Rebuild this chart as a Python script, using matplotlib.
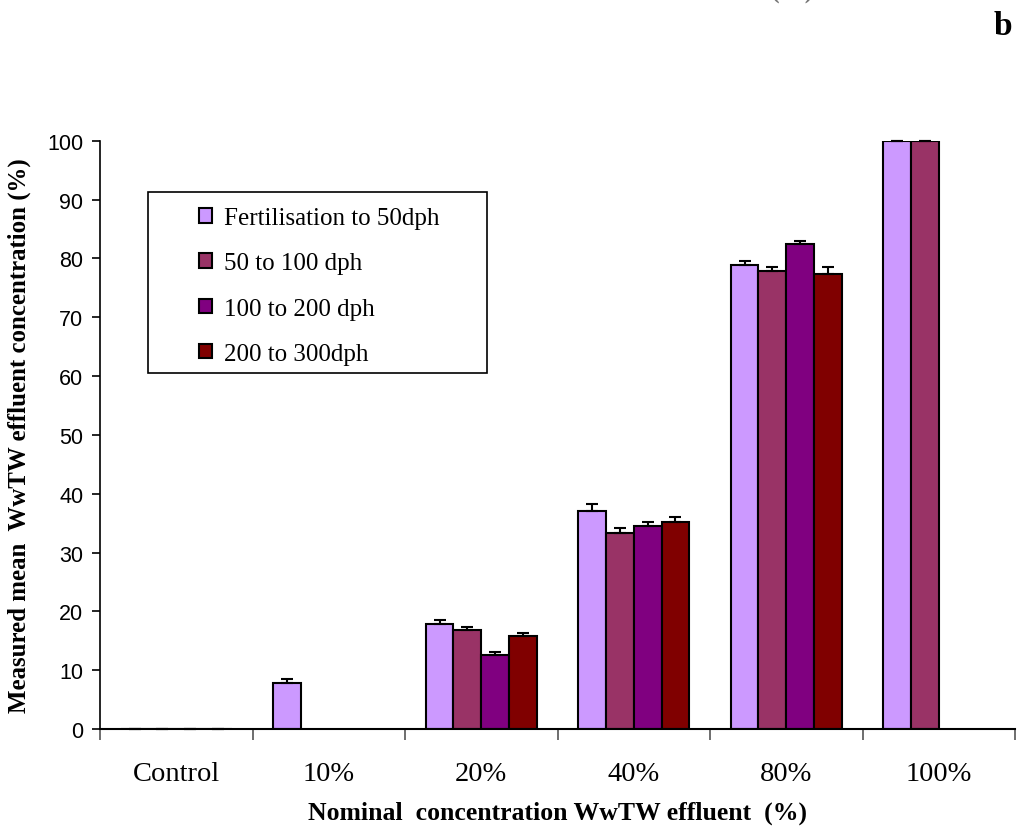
import numpy as np
import matplotlib
matplotlib.use('Agg')
import matplotlib.pyplot as plt
from matplotlib.patches import Rectangle

# measured WwTW effluent concentration per exposure window
categories = ['Control', '10%', '20%', '40%', '80%', '100%']
series = ['Fertilisation to 50dph', '50 to 100 dph', '100 to 200 dph', '200 to 300dph']
colors = ['#CC99FF', '#993366', '#800080', '#800000']

fert_50 = [0, 7.9, 17.8, 37.1, 78.8, 100]
d50_100 = [0, np.nan, 16.8, 33.4, 77.9, 100]
d100_200 = [0, np.nan, 12.6, 34.5, 82.5, np.nan]
d200_300 = [0, np.nan, 15.8, 35.2, 77.3, np.nan]

fert_50_err = [0, 0.65, 0.7, 1.2, 0.8, 0]
d50_100_err = [0, np.nan, 0.55, 0.85, 0.55, 0]
d100_200_err = [0, np.nan, 0.5, 0.7, 0.4, np.nan]
d200_300_err = [0, np.nan, 0.45, 0.85, 1.2, np.nan]

values = [fert_50, d50_100, d100_200, d200_300]
errors = [fert_50_err, d50_100_err, d100_200_err, d200_300_err]

serif = 'Liberation Serif'
sans = 'Liberation Sans'

fig = plt.figure(figsize=(10.17, 8.28), dpi=100)
ax = fig.add_axes([100/1017, 98/828, 915/1017, 588.3/828])

x = np.arange(len(categories))
w = 0.182
for i in range(4):
    pos = x + (i - 1.5) * w
    v = np.array(values[i], dtype=float)
    e = np.array(errors[i], dtype=float)
    ax.bar(pos, v, width=w, color=colors[i], edgecolor='black', linewidth=1.5,
           label=series[i], zorder=2)
    ax.errorbar(pos, v, yerr=[np.zeros_like(e), e], fmt='none', ecolor='black',
                elinewidth=1.5, capsize=4.5, capthick=1.5, zorder=3, clip_on=False)

ax.set_xlim(-0.5, len(categories) - 0.5)
ax.set_ylim(0, 100)
ax.set_yticks(range(0, 101, 10))
ax.set_xticks(np.arange(-0.5, len(categories), 1))
ax.set_xticklabels([])
ax.tick_params(axis='x', direction='out', length=8, width=1.2, color='#555555')
ax.tick_params(axis='y', direction='out', length=6, width=1.2, pad=6)
for t in ax.get_yticklabels():
    t.set_fontfamily(sans)
    t.set_fontsize(15.5)
for i, c in enumerate(categories):
    ax.text(i, -0.075, c, transform=ax.get_xaxis_transform(), ha='center', va='center',
            fontfamily=serif, fontsize=20.5)

ax.spines['top'].set_visible(False)
ax.spines['right'].set_visible(False)
ax.spines['left'].set_linewidth(1.2)
ax.spines['bottom'].set_linewidth(1.5)

ax.text(0.5, -0.141, 'Nominal  concentration WwTW effluent  (%)', transform=ax.transAxes,
        ha='center', va='center', fontfamily=serif, fontweight='bold', fontsize=18.5)
ax.set_ylabel('Measured mean  WwTW effluent concentration (%)', fontfamily=serif,
              fontweight='bold', fontsize=17.9, labelpad=12)

# legend box drawn separately so the entries can sit inside with a wide margin
ax.add_patch(Rectangle((0.0525, 0.605), 0.3705, 0.308, transform=ax.transAxes,
                       facecolor='white', edgecolor='black', linewidth=1.2, zorder=4))
leg = ax.legend(loc='upper left', bbox_to_anchor=(0.1085, 0.887), frameon=False,
                prop={'family': serif, 'size': 18}, handlelength=0.52,
                handleheight=0.52, handletextpad=0.45, labelspacing=0.93,
                borderpad=0, borderaxespad=0)
leg.set_zorder(5)

fig.text(0.995, 0.968, 'b', ha='right', va='center', fontfamily=serif,
         fontweight='bold', fontsize=24)
fig.text(0.568, 1 + 2/828, 'Nominal concentration WwTW effluent (%)', ha='center',
         va='baseline', fontfamily=serif, fontweight='bold', fontsize=18, color='#777777')

fig.savefig('out.png', dpi=100)
